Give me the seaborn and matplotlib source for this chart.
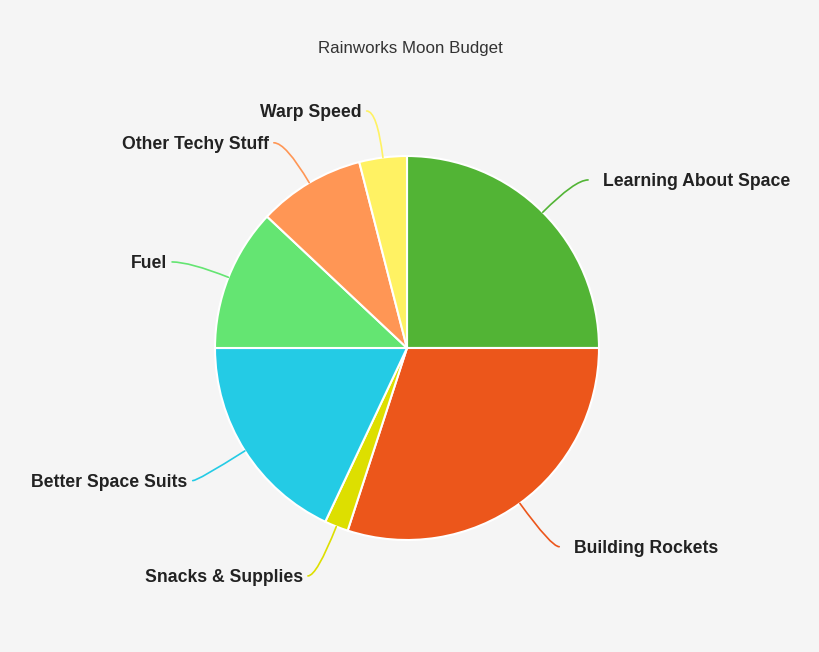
import numpy as np
import matplotlib
matplotlib.use("Agg")
import matplotlib.pyplot as plt
import seaborn as sns

# Data
labels = ["Learning About Space", "Building Rockets", "Snacks & Supplies",
          "Better Space Suits", "Fuel", "Other Techy Stuff", "Warp Speed"]
shares = [25, 30, 2, 18, 12, 9, 4]
colors = ["#52b435", "#ec561b", "#dddf00", "#24cbe5", "#64e572", "#ff9655", "#fff263"]

sns.set_theme(style="white")
plt.rcParams["font.family"] = ["Liberation Sans", "DejaVu Sans"]

W, H = 820, 652
cx, cy, R = 407, 348, 192

fig = plt.figure(figsize=(W / 100, H / 100), dpi=100)
fig.patch.set_facecolor("#f5f5f5")
ax = fig.add_axes([0, 0, 1, 1])
ax.set_facecolor("#f5f5f5")

wedges, _ = ax.pie(shares, colors=colors, startangle=90, counterclock=False,
                   radius=1.0, wedgeprops=dict(edgecolor="white", linewidth=1.5))
ax.set_xlim(-cx / R, (W - cx) / R)
ax.set_ylim(-(H - cy) / R, cy / R)
ax.set_aspect("equal")
ax.axis("off")

# labels with curved connectors
for w, lab, col in zip(wedges, labels, colors):
    ang = np.deg2rad((w.theta1 + w.theta2) / 2)
    c, s = np.cos(ang), np.sin(ang)
    side = 1 if c >= 0 else -1
    rl = 1.26
    end = (rl * c + side * 10 / R, rl * s - 3 / R)
    ax.annotate("", xy=(c, s), xytext=end,
                arrowprops=dict(arrowstyle="-", color=col, lw=1.2,
                                connectionstyle=f"angle3,angleA=0,angleB={np.rad2deg(ang)}",
                                shrinkA=0, shrinkB=0))
    gap = 15 if side > 0 else 5
    ax.text(end[0] + side * gap / R, end[1] - 1.5 / R, lab,
            ha="left" if side > 0 else "right",
            va="center", fontsize=12.7, fontweight="bold", color="#222222")

fig.text(0.5, 1 - 48 / H, "Rainworks Moon Budget", ha="center", va="center",
         fontsize=12.2, color="#333333")

fig.savefig("out.png", dpi=100, facecolor=fig.get_facecolor())
